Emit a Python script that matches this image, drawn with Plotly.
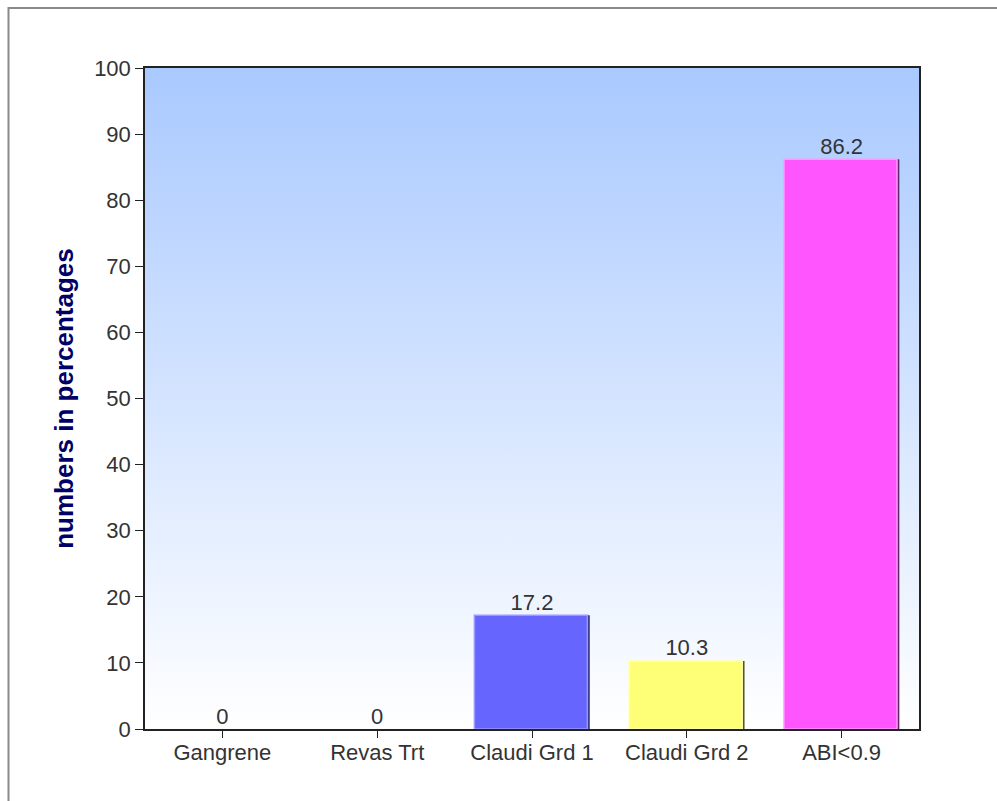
import base64
import plotly.graph_objects as go

categories = ["Gangrene", "Revas Trt", "Claudi Grd 1", "Claudi Grd 2", "ABI<0.9"]
values = [0, 0, 17.2, 10.3, 86.2]
fill_colors = ["#6666ff", "#6666ff", "#6666ff", "#ffff77", "#ff55ff"]
edge_light = ["#9999ff", "#9999ff", "#9999ff", "#ffffaa", "#ff99ff"]
edge_dark = ["#2a2a77", "#2a2a77", "#2a2a77", "#55552a", "#662266"]
y_ticks = list(range(0, 101, 10))

W, H = 997, 801
L, R, T, B = 145, 78, 68, 72
FONT = "Liberation Sans, Arial, sans-serif"

# vertical gradient for the plotting area
svg = (
    '<svg xmlns="http://www.w3.org/2000/svg" width="100" height="100" preserveAspectRatio="none">'
    '<defs><linearGradient id="g" x1="0" y1="0" x2="0" y2="1">'
    '<stop offset="0" stop-color="#a9c9ff"/><stop offset="1" stop-color="#ffffff"/>'
    '</linearGradient></defs><rect width="100" height="100" fill="url(#g)"/></svg>'
)
bg_src = "data:image/svg+xml;base64," + base64.b64encode(svg.encode()).decode()

edge_widths = [0 if v == 0 else 1.5 for v in values]

fig = go.Figure()

# darker shadow edge behind each bar
fig.add_trace(go.Bar(
    x=categories, y=values, width=0.745, offset=-0.372,
    marker=dict(color=edge_dark, line=dict(width=0)),
    hoverinfo="skip", showlegend=False,
))
# main bar face with a light bevel outline
fig.add_trace(go.Bar(
    x=categories, y=values, width=0.73, offset=-0.372,
    marker=dict(color=fill_colors, line=dict(color=edge_light, width=edge_widths)),
    showlegend=False,
))
# value labels
fig.add_trace(go.Scatter(
    x=categories, y=values, mode="text",
    text=[f"{v:g}" for v in values], textposition="top center",
    textfont=dict(family=FONT, size=22, color="#333333"),
    hoverinfo="skip", showlegend=False, cliponaxis=False,
))

pw = W - L - R
ph = H - T - B

fig.update_layout(
    width=W, height=H,
    margin=dict(l=L, r=R, t=T, b=B, pad=0),
    paper_bgcolor="#ffffff",
    plot_bgcolor="rgba(0,0,0,0)",
    barmode="overlay",
    font=dict(family=FONT, size=22, color="#333333"),
    images=[dict(source=bg_src, xref="paper", yref="paper", x=0, y=1,
                 sizex=1, sizey=1, sizing="stretch", layer="below")],
    shapes=[
        # outer frame (top and left edges)
        dict(type="line", xref="paper", yref="paper",
             x0=(8.5 - L) / pw, x1=(W + 5 - L) / pw,
             y0=1 + (T - 8) / ph, y1=1 + (T - 8) / ph,
             line=dict(color="#8a8a8a", width=2)),
        dict(type="line", xref="paper", yref="paper",
             x0=(8.5 - L) / pw, x1=(8.5 - L) / pw,
             y0=1 + (T - 7) / ph, y1=-(B + 5) / ph,
             line=dict(color="#8a8a8a", width=2)),
    ],
)

fig.update_xaxes(
    showgrid=False, showline=True, linecolor="#222222", linewidth=1.5,
    mirror=True, ticks="outside", ticklen=7, tickcolor="#222222",
    tickfont=dict(family=FONT, size=22, color="#333333"),
    ticklabelstandoff=-4,
    range=[-0.5, 4.5], automargin=False,
)
fig.update_yaxes(
    range=[0, 100], tickvals=y_ticks, showgrid=False, zeroline=False,
    showline=True, linecolor="#222222", linewidth=1.5, mirror=True,
    ticks="outside", ticklen=8, tickcolor="#222222",
    tickfont=dict(family=FONT, size=22, color="#333333"),
    automargin=False,
    title=dict(text="<b>numbers in percentages</b>", standoff=13,
               font=dict(size=26, color="#000066", family=FONT)),
)

fig.write_html("out.html")
